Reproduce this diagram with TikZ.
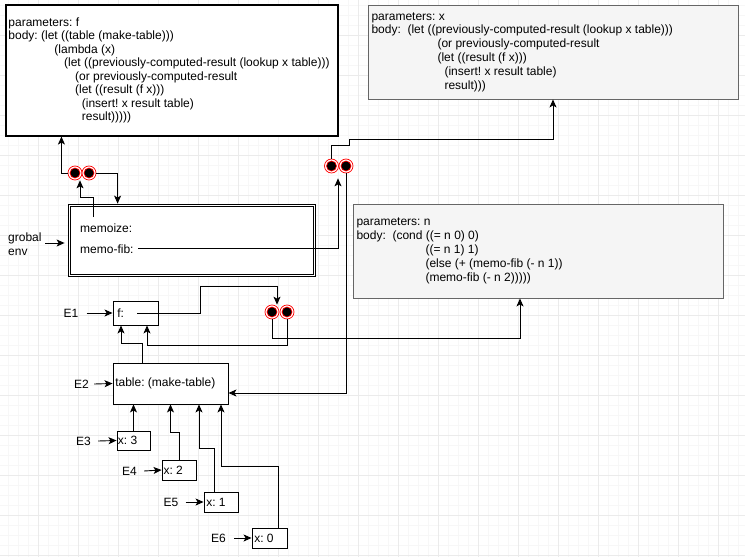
\documentclass[tikz,border=0pt]{standalone}
\usepackage{fontspec}
\setmainfont{Liberation Sans}
\usetikzlibrary{arrows.meta}
\frenchspacing
\begin{document}
\frenchspacing
\begin{tikzpicture}[x=1pt,y=-1pt,
  arr/.style={-{Stealth[length=8pt,width=7pt,inset=2pt]}, line width=0.9pt},
  code/.style={inner sep=0pt, align=left, anchor=west},
  txt/.style={inner sep=0pt, font=\fontsize{12}{14}\selectfont},
  proc/.style={draw=black, line width=1.1pt, fill=white, inner sep=0pt},
  gproc/.style={draw=black!60, line width=0.9pt, fill=black!4, inner sep=0pt},
  frm/.style={draw=black, line width=0.9pt, fill=white, inner sep=0pt},
  minorg/.style={draw=black!3, line width=0.7pt},
  majorg/.style={draw=black!8, line width=0.8pt},
  dot/.style={circle, draw=red, line width=0.7pt, minimum size=14pt, inner sep=0pt, fill=white,
    path picture={\fill[red] (path picture bounding box.center) circle (5.4pt);
                  \fill[black] (path picture bounding box.center) circle (4.5pt);}},
]
\useasboundingbox (0,0) rectangle (745,557);
\fill[white] (0,0) rectangle (745,557);
% grid
\foreach \x in {8,18,...,744} \draw[minorg] (\x,0) -- (\x,557);
\foreach \y in {5,15,...,556} \draw[minorg] (0,\y) -- (745,\y);
\foreach \x in {38,78,...,744} \draw[majorg] (\x,0) -- (\x,557);
\foreach \y in {35,75,...,556} \draw[majorg] (0,\y) -- (745,\y);

% procedure body boxes
\node[proc, minimum width=332pt, minimum height=131pt] (box1) at (172,70.5) {};
\node[code, font=\fontsize{12}{13.45}\selectfont] (box1t) at ([xshift=2.8pt]box1.west) {parameters: f\\
body: (let ((table (make-table)))\\
\hspace*{46pt}(lambda (x)\\
\hspace*{55.7pt}(let ((previously-computed-result (lookup x table)))\\
\hspace*{66.7pt}(or previously-computed-result\\
\hspace*{66.7pt}(let ((result (f x)))\\
\hspace*{73.4pt}(insert! x result table)\\
\hspace*{73.4pt}result)))))};

\node[gproc, minimum width=370pt, minimum height=94pt] (box2) at (553,52) {};
\node[code, font=\fontsize{12}{13.8}\selectfont] (box2t) at ([xshift=3.8pt]box2.west) {parameters: x\\
body:\ \ (let ((previously-computed-result (lookup x table)))\\
\hspace*{66pt}(or previously-computed-result\\
\hspace*{66pt}(let ((result (f x)))\\
\hspace*{73pt}(insert! x result table)\\
\hspace*{73pt}result)))};

\node[gproc, minimum width=370pt, minimum height=94pt] (box3) at (538,251) {};
\node[code, font=\fontsize{12}{14}\selectfont] (box3t) at ([xshift=3.8pt]box3.west) {parameters: n\\
body:\ \ (cond ((= n 0) 0)\\
\hspace*{69pt}((= n 1) 1)\\
\hspace*{69pt}(else (+ (memo-fib (- n 1))\\
\hspace*{69pt}(memo-fib (- n 2)))))};

% global environment frame
\node[frm, double, double distance=1.6pt, line width=0.8pt, minimum width=244.8pt, minimum height=69.8pt] (genv) at (192,240.5) {};
\node[txt, anchor=west] (tmz) at (80,228) {memoize:};
\node[txt, anchor=west] (tmf) at (80,249) {memo-fib:};
\node[txt, align=left, anchor=west] (gl) at (8,244) {grobal\\env};

% environment frames
\node[frm, minimum width=45pt, minimum height=24pt] (E1) at (135.5,313) {};
\node[txt, anchor=west] (tE1) at ([xshift=4.5pt]E1.west) {f:};
\node[frm, minimum width=115pt, minimum height=41pt] (E2) at (170.5,383.5) {};
\node[txt, anchor=west] (tE2) at ([xshift=2.5pt]E2.west) {table: (make-table)};
\node[frm, minimum width=33pt, minimum height=19pt] (x3) at (133.5,440.5) {};
\node[txt, anchor=west] (tx3) at ([xshift=1.2pt]x3.west) {x: 3};
\node[frm, minimum width=34pt, minimum height=20pt] (x2) at (179,470) {};
\node[txt, anchor=west] (tx2) at ([xshift=1.8pt]x2.west) {x: 2};
\node[frm, minimum width=34pt, minimum height=20pt] (x1) at (221,502) {};
\node[txt, anchor=west] (tx1) at ([xshift=2.5pt]x1.west) {x: 1};
\node[frm, minimum width=35pt, minimum height=20pt] (x0) at (269.5,538) {};
\node[txt, anchor=west] (tx0) at ([xshift=2.5pt]x0.west) {x: 0};

% environment labels
\node[txt] (lE1) at (71,313) {E1};
\node[txt] (lE2) at (81.5,384) {E2};
\node[txt] (lE3) at (83.5,441) {E3};
\node[txt] (lE4) at (129.5,471) {E4};
\node[txt] (lE5) at (171,502) {E5};
\node[txt] (lE6) at (218.5,538) {E6};
\draw[arr] ([xshift=8pt]lE1.east) -- (E1.west);
\draw[arr] ([xshift=5pt]lE2.east) -- (E2.west);
\draw[arr] ([xshift=7pt]lE3.east) -- (x3.west);
\draw[arr] ([xshift=7pt]lE4.east) -- (x2.west);
\draw[arr] ([xshift=7pt]lE5.east) -- (x1.west);
\draw[arr] ([xshift=8pt]lE6.east) -- (x0.west);
\draw[arr] ([xshift=3.5pt,yshift=1pt]gl.east) -- ([xshift=-4.6pt,yshift=-2.5pt]genv.west);

% procedure objects (circle pairs)
\node[dot] (c1l) at (75,173) {};
\node[dot] (c1r) at (89,173) {};
\node[dot] (c2l) at (331.5,166) {};
\node[dot] (c2r) at (346,166) {};
\node[dot] (c3l) at (272,312) {};
\node[dot] (c3r) at (287,312) {};

\coordinate (mz) at (93,217);
\coordinate (mf) at (138,248);
\coordinate (fb) at (137,313);

% connectors
\draw[arr] (c1l.west) -| ([xshift=56pt]box1.south west);
\draw[arr] (mz) -- (93,197) -| ([xshift=5pt]c1l.south);
\draw[arr] (c1r.east) -| ([xshift=48.4pt,yshift=1.6pt]genv.north west);
\draw[arr] (mf) -| ([xshift=6.5pt,yshift=-5pt]c2l.south);
\draw[arr] (c2l.north) -- (331.5,145) -- (349,145) -- (349,139) -| (box2.south);
\draw[arr] (c2r.south) |- ([yshift=-9.5pt]E2.east);
\draw[arr] (fb) -- (200,313) -- (200,286) -| ([xshift=5pt]c3l.north);
\draw[arr] (c3l.south) -- (272,338) -| ([xshift=-18pt]box3.south);
\draw[arr] (c3r.south) -- (287,345) -| ([xshift=11.5pt]E1.south);
\draw[arr] ([xshift=-28.5pt]E2.north) -- (142,343) -| ([xshift=-14.5pt]E1.south);
\draw[arr] (x3.north) -- (x3.north |- E2.south);
\draw[arr] (x2.north) -- (179,432) -| (E2.south);
\draw[arr] ([xshift=-7pt]x1.north) -- (214,448) -| ([xshift=28.5pt]E2.south);
\draw[arr] ([xshift=8.5pt]x0.north) -- (278,466) -| ([xshift=50.5pt]E2.south);
\end{tikzpicture}
\end{document}
